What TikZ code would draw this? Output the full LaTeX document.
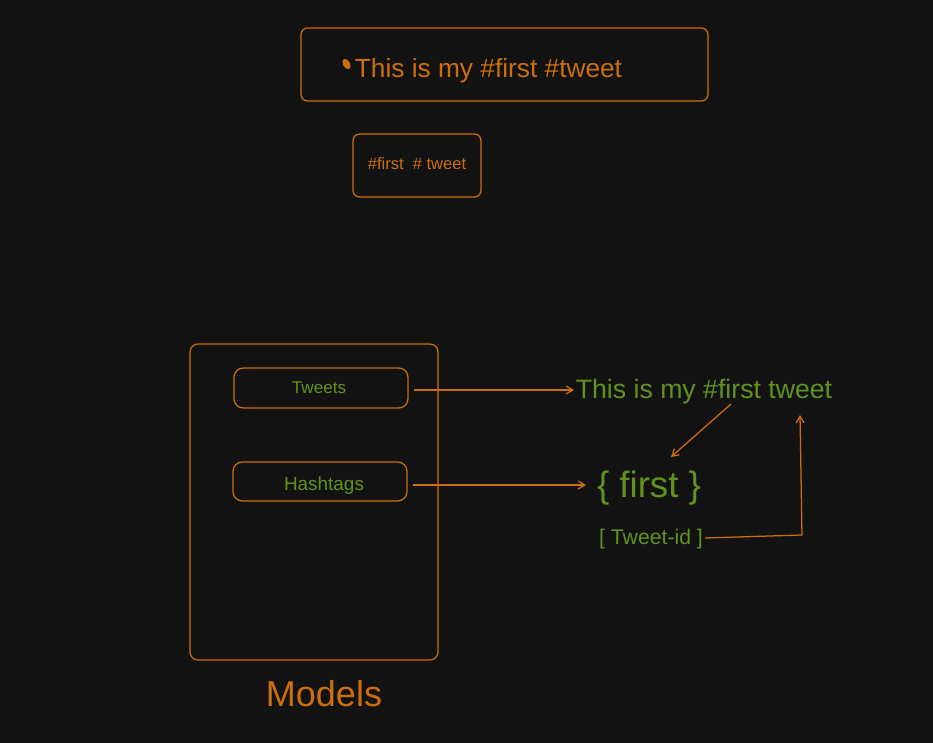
\documentclass[tikz,border=0pt]{standalone}
\usepackage{fontspec}
\setmainfont{Liberation Sans}
\usetikzlibrary{arrows.meta}
\definecolor{bg}{RGB}{18,18,18}
\definecolor{org}{RGB}{204,110,12}
\definecolor{grn}{RGB}{98,146,30}
\tikzset{
  rbox/.style={draw=org, line width=0.95pt, rounded corners=5pt},
  conn/.style={draw=org, line width=0.95pt, -{Straight Barb[length=5pt,width=6pt]}},
  gtext/.style={text=grn, inner sep=0pt, anchor=center},
  otext/.style={text=org, inner sep=0pt, anchor=center}
}
\begin{document}
\begin{tikzpicture}[x=0.75pt, y=-0.75pt]
\fill[bg] (0,0) rectangle (933,743);
\useasboundingbox (0,0) rectangle (933,743);
% top tweet box
\draw[rbox] (301,28) rectangle (708,101);
\fill[org, rotate around={30:(346.5,64)}] (346.5,64) ellipse (2.6pt and 4.2pt);
\node[otext, font=\fontsize{19.7}{24}\selectfont] (tw1) at (488.5,70.5) {This is my \#first \#tweet};
% hashtag box
\draw[rbox] (353,134) rectangle (481,197);
\node[otext, font=\fontsize{12.4}{15}\selectfont] (tags) at (417,164) {\#first\ \ \# tweet};
% Models box
\draw[rbox, rounded corners=6pt] (190,344) rectangle (438,660);
\node[otext, font=\fontsize{27}{32}\selectfont] (models) at (324,694) {Models};
% Tweets model
\draw[rbox, rounded corners=7pt] (234,368) rectangle (408,408);
\node[gtext, font=\fontsize{12.8}{15}\selectfont] (tweets) at (319,388) {Tweets};
\coordinate (tweetsR) at (414,390);
% Hashtags model
\draw[rbox, rounded corners=7pt] (233,462) rectangle (407,501);
\node[gtext, font=\fontsize{14.2}{17}\selectfont] (hashtags) at (324,486) {Hashtags};
\coordinate (hashR) at (413,485);
% right side texts
\node[gtext, font=\fontsize{20}{24}\selectfont] (tweet) at (704,392) {This is my \#first tweet};
\node[gtext, font=\fontsize{27.5}{33}\selectfont] (first) at (649,488) {\{ first \}};
\node[gtext, font=\fontsize{15.9}{19}\selectfont] (tid) at (651,539) {[ Tweet-id ]};
% connectors
\coordinate (tweetL) at (574,390);
\coordinate (firstL) at (586,485);
\coordinate (tweetHash) at (731,404);
\coordinate (firstTop) at (671,457);
\coordinate (tidR) at (705,538);
\coordinate (corner) at (802,535);
\coordinate (tweetEnd) at (800,415);
\draw[conn] (tweetsR) -- (tweetL);
\draw[conn] (hashR) -- (firstL);
\draw[conn] (tweetHash) -- (firstTop);
\draw[conn] (tidR) -- (corner) -- (tweetEnd);
\end{tikzpicture}
\end{document}
